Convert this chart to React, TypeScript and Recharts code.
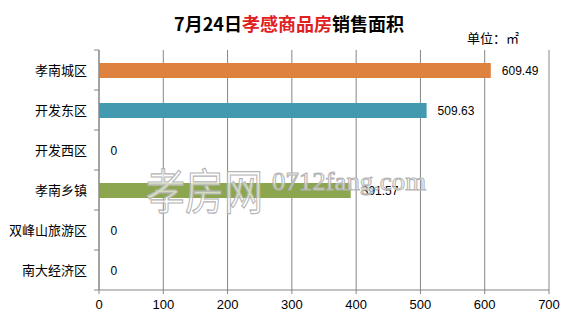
import React from 'react';
import { BarChart, Bar, XAxis, YAxis, CartesianGrid, Cell, LabelList } from 'recharts';

const categories = ['孝南城区', '开发东区', '开发西区', '孝南乡镇', '双峰山旅游区', '南大经济区'];
const areaValues = [609.49, 509.63, 0, 391.57, 0, 0];
const barColors = ['#DE823F', '#4399B0', '#8CA64F', '#8CA64F', '#8CA64F', '#8CA64F'];
const xTicks = [0, 100, 200, 300, 400, 500, 600, 700];

const data = categories.map((name, i) => ({ name, value: areaValues[i] }));

const GRID = '#868686';
const CJK = '"Noto Sans CJK SC", "Noto Sans", sans-serif';
const LATIN = '"Liberation Sans", Arial, sans-serif';

// category label plus Excel-style tick marks on band boundaries
function CategoryTick(props: any) {
  const { x, y, payload, index } = props;
  const axisX = x + 12;
  const half = 20;
  return (
    <g>
      <line x1={axisX - 5} x2={axisX} y1={y - half} y2={y - half} stroke={GRID} />
      {index === categories.length - 1 && (
        <line x1={axisX - 5} x2={axisX} y1={y + half} y2={y + half} stroke={GRID} />
      )}
      <text x={x} y={y} dy="0.36em" textAnchor="end" fontSize={13} fill="#000" fontFamily={CJK}>
        {payload.value}
      </text>
    </g>
  );
}

export default function App() {
  return (
    <div style={{ position: 'absolute', left: 0, top: 0, width: 573, height: 320, background: '#fff' }}>
      <div
        style={{
          position: 'absolute', left: 0, top: 11, width: 578, textAlign: 'center',
          fontFamily: CJK, fontWeight: 700, fontSize: 18, lineHeight: '24px', color: '#000',
        }}
      >
        7月24日<span style={{ color: '#E0201E' }}>孝感商品房</span>销售面积
      </div>
      <div
        style={{
          position: 'absolute', left: 467, top: 29, fontFamily: CJK, fontSize: 13,
          lineHeight: '18px', color: '#000',
        }}
      >
        单位：㎡
      </div>
      <BarChart
        width={573}
        height={320}
        layout="vertical"
        data={data}
        margin={{ top: 50, right: 24, left: 0, bottom: 0 }}
        barSize={15}
      >
        <CartesianGrid horizontal={false} stroke={GRID} />
        <XAxis
          type="number"
          domain={[0, 700]}
          ticks={xTicks}
          height={30}
          axisLine={{ stroke: GRID }}
          tickLine={{ stroke: GRID }}
          tickSize={4}
          tickMargin={6}
          tick={{ fontSize: 13, fill: '#000', fontFamily: LATIN }}
          interval={0}
        />
        <YAxis
          type="category"
          dataKey="name"
          width={99}
          axisLine={{ stroke: GRID }}
          tickLine={false}
          tickSize={0}
          tickMargin={12}
          interval={0}
          tick={<CategoryTick />}
        />
        <Bar dataKey="value" isAnimationActive={false} minPointSize={0.5}>
          {data.map((d, i) => (
            <Cell key={`cell-${i}`} fill={d.value === 0 ? 'transparent' : barColors[i]} />
          ))}
          <LabelList
            dataKey="value"
            position="right"
            offset={11}
            fontSize={12}
            fill="#000"
            fontFamily={LATIN}
          />
        </Bar>
      </BarChart>
      <svg
        width={573}
        height={320}
        style={{ position: 'absolute', left: 0, top: 0, pointerEvents: 'none' }}
      >
        <text
          x={146}
          y={209}
          fontSize={48}
          fontFamily={CJK}
          textLength={117}
          lengthAdjust="spacingAndGlyphs"
          fill="rgba(255,255,255,0.65)"
          stroke="#b4b4b4"
          strokeWidth={1.2}
        >
          孝房网
        </text>
        <text
          x={272}
          y={190}
          fontSize={25}
          fontFamily='"Liberation Serif", "DejaVu Serif", serif'
          textLength={154}
          lengthAdjust="spacingAndGlyphs"
          fill="rgba(255,255,255,0.65)"
          stroke="#b4b4b4"
          strokeWidth={1}
        >
          0712fang.com
        </text>
      </svg>
    </div>
  );
}
